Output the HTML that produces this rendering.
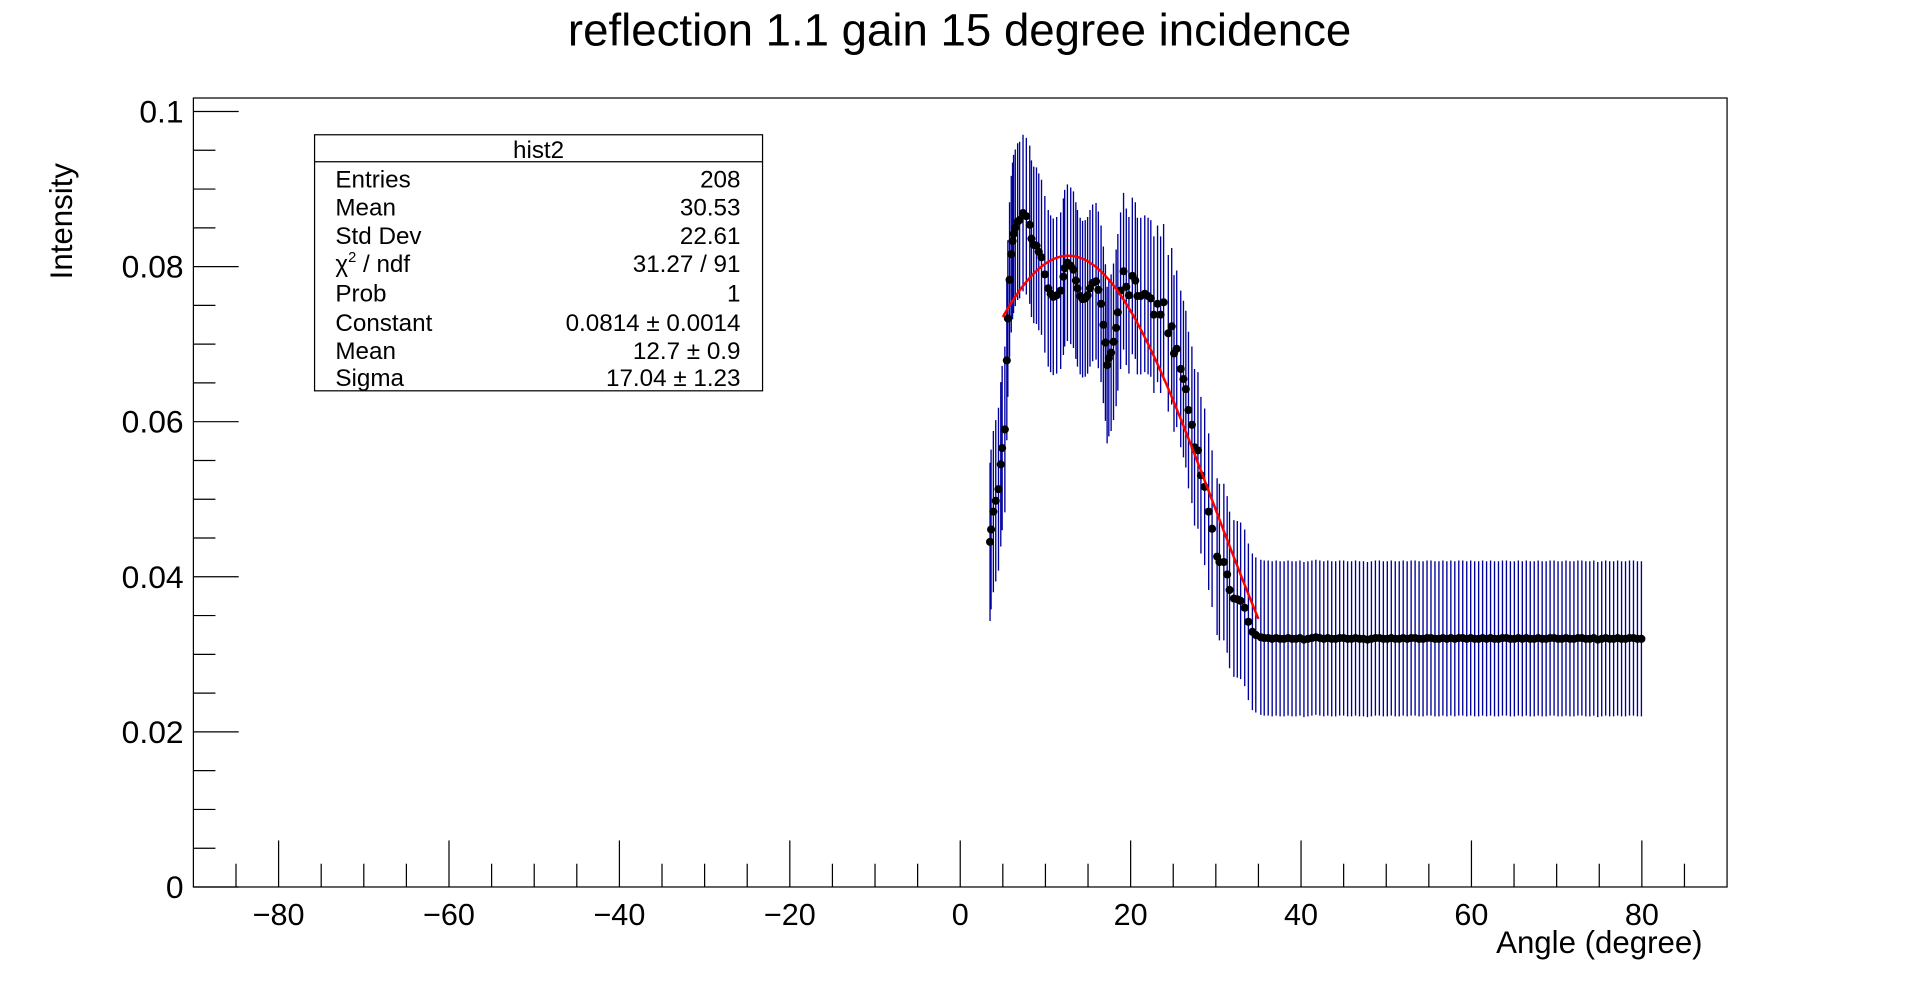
<!DOCTYPE html>
<html><head><meta charset="utf-8"><style>
html,body{margin:0;padding:0;background:#fff;}
svg{display:block;font-family:"Liberation Sans",Arial,sans-serif;}
</style></head><body>
<svg id="chart" width="1918" height="985" viewBox="0 0 1567 804" preserveAspectRatio="none" xmlns="http://www.w3.org/2000/svg">
<rect x="0" y="0" width="1567" height="804" fill="#fff"/>
<text x="784" y="37" font-size="37" text-anchor="middle" textLength="640" lengthAdjust="spacingAndGlyphs">reflection 1.1 gain 15 degree incidence</text>
<rect x="158" y="80" width="1253" height="644" fill="none" stroke="#000" stroke-width="1"/>
<g id="axes"></g>
<g id="errs"></g>
<g id="pts"></g>
<path id="fit" fill="none" stroke="#f00" stroke-width="2"/>
<text transform="translate(59,228) rotate(-90)" font-size="25.5" text-anchor="start">Intensity</text>
<text x="1391" y="778" font-size="25.5" text-anchor="end">Angle (degree)</text>
<g font-size="19.8">
<rect x="257" y="110" width="366" height="209" fill="#fff" stroke="#000" stroke-width="1"/>
<line x1="257" y1="132" x2="623" y2="132" stroke="#000"/>
<text x="440" y="129" text-anchor="middle">hist2</text>
<text x="274" y="153">Entries</text><text x="605" y="153" text-anchor="end">208</text>
<text x="274" y="176">Mean</text><text x="605" y="176" text-anchor="end">30.53</text>
<text x="274" y="199">Std Dev</text><text x="605" y="199" text-anchor="end">22.61</text>
<text x="274" y="222">χ<tspan font-size="12" dy="-8">2</tspan><tspan dy="8"> / ndf</tspan></text><text x="605" y="222" text-anchor="end">31.27 / 91</text>
<text x="274" y="246">Prob</text><text x="605" y="246" text-anchor="end">1</text>
<text x="274" y="270">Constant</text><text x="605" y="270" text-anchor="end">0.0814 ± 0.0014</text>
<text x="274" y="293">Mean</text><text x="605" y="293" text-anchor="end">12.7 ± 0.9</text>
<text x="274" y="315">Sigma</text><text x="605" y="315" text-anchor="end">17.04 ± 1.23</text>
</g>
</svg>
<script>
const peakAngles=[3.50,3.62,3.89,4.17,4.49,4.76,4.92,5.24,5.47,5.59,5.79,5.99,6.14,6.26,6.46,6.74,6.97,7.37,7.76,8.16,8.36,8.63,8.95,9.22,9.54,9.93,10.33,10.61,10.92,11.32,11.79,12.11,12.26,12.58,12.97,13.29,13.57,13.76,14.08,14.36,14.67,14.95,15.23,15.54,15.94,16.21,16.53,16.80,17.04,17.24,17.44,17.71,17.99,18.30,18.50,18.82,19.17,19.49,19.80,20.20,20.55,20.79,21.19,21.66,22.05,22.37,22.73,23.16,23.52,23.87,24.42,24.82,25.09,25.41,25.88,26.20,26.48,26.79,27.19,27.50,27.90,28.25,28.69,29.16,29.56,30.15,30.42,30.94,31.33,31.61,32.12,32.52,32.91,33.39,33.82,34.29,34.69,35.28];
const peakValues=[0.0445,0.0461,0.0484,0.0498,0.0513,0.0545,0.0566,0.0590,0.0679,0.0733,0.0783,0.0816,0.0833,0.0842,0.0850,0.0858,0.0860,0.0869,0.0865,0.0854,0.0836,0.0828,0.0827,0.0819,0.0812,0.0790,0.0772,0.0765,0.0761,0.0763,0.0769,0.0787,0.0798,0.0805,0.0801,0.0796,0.0782,0.0772,0.0762,0.0758,0.0759,0.0763,0.0772,0.0779,0.0781,0.0770,0.0752,0.0725,0.0702,0.0673,0.0682,0.0689,0.0703,0.0721,0.0741,0.0769,0.0794,0.0774,0.0763,0.0788,0.0782,0.0762,0.0762,0.0765,0.0762,0.0759,0.0738,0.0752,0.0738,0.0754,0.0714,0.0723,0.0688,0.0694,0.0668,0.0655,0.0642,0.0615,0.0596,0.0567,0.0563,0.0531,0.0516,0.0484,0.0462,0.0426,0.0419,0.0419,0.0403,0.0383,0.0372,0.0371,0.0369,0.0360,0.0342,0.0329,0.0325,0.0322];
const peakErrors=[0.0102,0.0103,0.0104,0.0104,0.0105,0.0106,0.0106,0.0107,0.0103,0.0101,0.0100,0.0101,0.0101,0.0102,0.0101,0.0101,0.0101,0.0101,0.0101,0.0102,0.0101,0.0101,0.0101,0.0101,0.0100,0.0101,0.0101,0.0101,0.0101,0.0101,0.0101,0.0101,0.0101,0.0101,0.0101,0.0101,0.0101,0.0101,0.0101,0.0101,0.0101,0.0101,0.0101,0.0101,0.0101,0.0101,0.0101,0.0101,0.0101,0.0101,0.0101,0.0101,0.0101,0.0101,0.0101,0.0101,0.0101,0.0101,0.0101,0.0101,0.0101,0.0101,0.0101,0.0101,0.0101,0.0101,0.0101,0.0101,0.0101,0.0101,0.0101,0.0101,0.0101,0.0101,0.0101,0.0101,0.0101,0.0101,0.0101,0.0101,0.0101,0.0101,0.0101,0.0101,0.0101,0.0101,0.0101,0.0101,0.0101,0.0101,0.0101,0.0101,0.0101,0.0101,0.0101,0.0101,0.0100,0.0100];
const flatStart=35.68;
const flatStep=0.466;
const flatValues=[0.0321,0.0321,0.0320,0.0321,0.0320,0.0320,0.0321,0.0320,0.0320,0.0321,0.0319,0.0320,0.0321,0.0322,0.0321,0.0320,0.0321,0.0320,0.0320,0.0321,0.0321,0.0320,0.0320,0.0321,0.0320,0.0320,0.0319,0.0320,0.0321,0.0321,0.0320,0.0320,0.0321,0.0320,0.0320,0.0321,0.0320,0.0321,0.0321,0.0320,0.0320,0.0321,0.0321,0.0320,0.0320,0.0321,0.0320,0.0321,0.0320,0.0321,0.0321,0.0320,0.0321,0.0320,0.0320,0.0321,0.0320,0.0321,0.0320,0.0320,0.0321,0.0321,0.0320,0.0320,0.0321,0.0320,0.0321,0.0320,0.0320,0.0321,0.0320,0.0320,0.0321,0.0321,0.0320,0.0320,0.0321,0.0320,0.0320,0.0321,0.0321,0.0320,0.0320,0.0321,0.0319,0.0320,0.0321,0.0320,0.0320,0.0321,0.0320,0.0320,0.0321,0.0321,0.0320,0.0320];
const flatError=0.0100;
const fitParams=[0.0814,12.7,17.04];
const fitRange=[5,35];
const xTicks=[-80,-60,-40,-20,0,20,40,60,80];
const xTickLabels=["\u221280","\u221260","\u221240","\u221220","0","20","40","60","80"];
const yTicks=[0,0.02,0.04,0.06,0.08,0.1];
const yTickLabels=["0","0.02","0.04","0.06","0.08","0.1"];
const xDomain=[-90,90];
const yDomain=[0,0.10174];

const L=158,R=1411,T=80,B=724;
const NS="http://www.w3.org/2000/svg";
function sx(v){return L+(v-xDomain[0])/(xDomain[1]-xDomain[0])*(R-L);}
function sy(v){return B-(v-yDomain[0])/(yDomain[1]-yDomain[0])*(B-T);}
function mk(tag,attrs,parent){const e=document.createElementNS(NS,tag);for(const k in attrs)e.setAttribute(k,attrs[k]);parent.appendChild(e);return e;}
const axes=document.getElementById('axes');
for(let v=-85;v<=85;v+=5){
  const major=v%20===0;
  const t=mk('line',{x1:sx(v),x2:sx(v),y1:B,y2:major?B-38:B-19,stroke:'#000','stroke-width':1},axes);
  
  
}
xTicks.forEach((v,i)=>{
  const t=mk('text',{x:sx(v),y:B+31,'font-size':25,'text-anchor':'middle'},axes);
  t.textContent=xTickLabels[i];
  
  
});
for(let k=0;k<=20;k++){
  const v=k*0.005;const major=k%4===0;
  const t=mk('line',{x1:L,x2:major?L+37:L+18,y1:sy(v),y2:sy(v),stroke:'#000','stroke-width':1},axes);
  
  
}
yTicks.forEach((v,i)=>{
  const t=mk('text',{x:150,y:sy(v)+9,'font-size':26,'text-anchor':'end'},axes);
  t.textContent=yTickLabels[i];
  
  
});
const errs=document.getElementById('errs'),pts=document.getElementById('pts');
function drawPoint(a,v,e){
  const l=mk('line',{x1:sx(a),x2:sx(a),y1:sy(v-e),y2:sy(v+e),stroke:'#00009c','stroke-width':1.1},errs);
  
  
  const c=mk('circle',{cx:sx(a),cy:sy(v),r:3.3,fill:'#000'},pts);
  
  
}
peakAngles.forEach((a,i)=>drawPoint(a,peakValues[i],peakErrors[i]));
flatValues.forEach((v,i)=>drawPoint(flatStart+i*flatStep,v,flatError));
let d='';
for(let a=fitRange[0];a<=fitRange[1]+1e-9;a+=0.25){
  const g=fitParams[0]*Math.exp(-0.5*Math.pow((a-fitParams[1])/fitParams[2],2));
  d+=(d?'L':'M')+sx(a).toFixed(2)+','+sy(g).toFixed(2);
}
document.getElementById('fit').setAttribute('d',d);
</script>
</body></html>
